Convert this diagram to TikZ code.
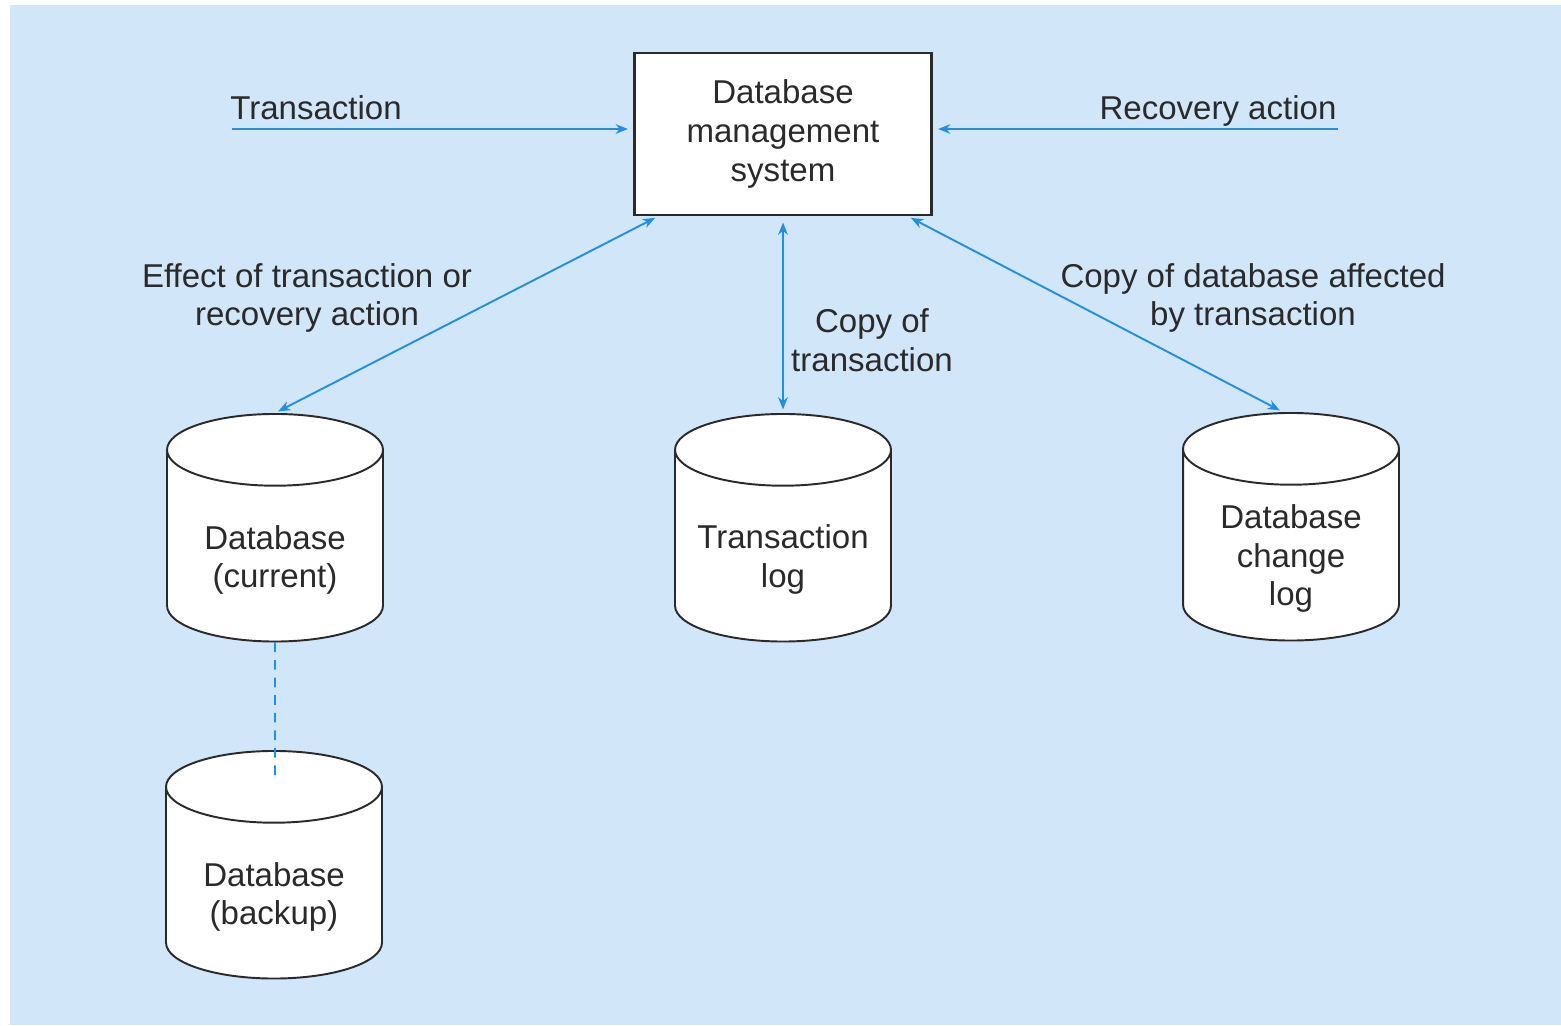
\documentclass[tikz,border=0pt]{standalone}
\usepackage{fontspec}
\setmainfont{Liberation Sans}
\usetikzlibrary{shapes.geometric,arrows.meta}
\definecolor{bgblue}{HTML}{D2E6FA}
\definecolor{arrblue}{HTML}{2290DE}
\definecolor{inkgray}{HTML}{2A2A2A}
% fixed text box, so every drum gets the same ends
\newcommand{\drumtext}[1]{\parbox[c][2.38cm][c]{3.5cm}{\centering\vspace*{15.5pt}#1}}

\begin{document}
\begin{tikzpicture}[x=0.02cm,y=-0.02cm,
  every node/.style={text=inkgray,font=\fontsize{18.8}{22}\selectfont,align=center},
  dbbox/.style={draw=inkgray,line width=1.5pt,fill=white,minimum width=5.94cm,minimum height=3.24cm},
  store/.style={cylinder,shape border rotate=90,aspect=0.41,draw=inkgray,line width=1.1pt,fill=white,inner sep=0pt,minimum width=4.32cm,minimum height=4.54cm,anchor=north},
  flow/.style={draw=arrblue,line width=1.1pt,-{Stealth[length=7pt,width=5.5pt]}},
  flowboth/.style={flow,{Stealth[length=7pt,width=5.5pt]}-{Stealth[length=7pt,width=5.5pt]}}]
\useasboundingbox (0,0) rectangle (1561,1025);
\fill[bgblue] (10,5) rectangle (1561,1025);

\node[dbbox] (dbms) at (783,134) {Database\\management\\system};
\node[store] (cur) at (275,413) {\drumtext{Database\\(current)}};
\node[store] (bak) at (274,750) {\drumtext{Database\\(backup)}};
\node[store] (tlog) at (783,413) {\drumtext{Transaction\\log}};
\node[store] (chg) at (1291,412) {\drumtext{Database\\change\\log}};

\coordinate (tin) at (232,129);
\coordinate (rin) at (1338,129);
\coordinate (bakend) at (275,783);

\node[anchor=base] (tlab) at (316,119) {Transaction};
\node[anchor=base] (rlab) at (1218,119) {Recovery action};
\node (elab) at (307,298) {Effect of transaction or\\recovery action};
\node (clab) at (872,340) {Copy of\\transaction};
\node (dlab) at (1253,298) {Copy of database affected\\by transaction};

\draw[flow,shorten >=3pt] (tin) -- (dbms.west |- tin);
\draw[flow,shorten >=3pt] (rin) -- (dbms.east |- rin);
\draw[flowboth,shorten <=2pt,shorten >=2pt] ([xshift=0.5cm]dbms.south west) -- (cur.north);
\draw[flowboth,shorten <=3.5pt,shorten >=2pt] (dbms.south) -- (tlog.north);
\draw[flowboth,shorten <=2pt,shorten >=2pt] ([xshift=-0.5cm]dbms.south east) -- ([xshift=-0.16cm]chg.north);
\draw[arrblue,line width=1pt,dash pattern=on 5.5pt off 4.5pt] (cur.south) -- (bakend);
\end{tikzpicture}
\end{document}
